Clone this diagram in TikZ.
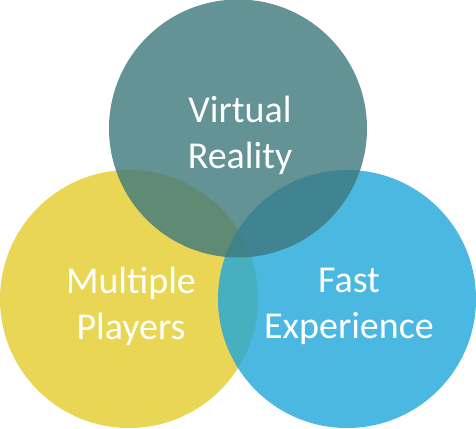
\documentclass[tikz,border=0pt]{standalone}
\usepackage{fontspec}
\setmainfont{Carlito}
\usetikzlibrary{positioning}
\definecolor{vrteal}{RGB}{61,120,124}
\definecolor{mpyellow}{RGB}{227,204,41}
\definecolor{feblue}{RGB}{30,166,219}

\begin{document}
\begin{tikzpicture}[x=1pt,y=1pt,
  bubble/.style={circle,minimum size=258pt,inner sep=0pt,fill opacity=0.8},
  caption/.style={text=white,align=center,font=\fontsize{38}{46}\selectfont}]
  \useasboundingbox (0,0) rectangle (476,428);
  \node[bubble,fill=mpyellow] (mp) at (129,129) {};
  \node[bubble,fill=feblue] (fe) at (347,129) {};
  \node[bubble,fill=vrteal] (vr) at (238,299.5) {};
  % labels, a bit below the centres
  \node[caption] (vrtext) at ([xshift=2pt,yshift=-7pt]vr.center) {Virtual\\Reality};
  \node[caption] (mptext) at ([xshift=2pt,yshift=-7pt]mp.center) {Multiple\\Players};
  \node[caption] (fetext) at ([xshift=2pt,yshift=-7pt]fe.center) {Fast\\Experience};
\end{tikzpicture}
\end{document}
